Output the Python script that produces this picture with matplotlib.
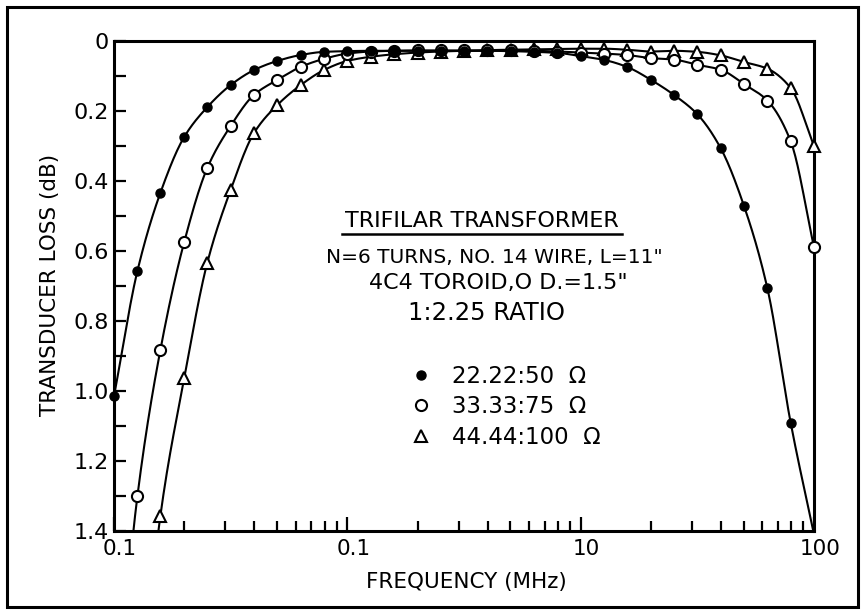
import numpy as np
import matplotlib
matplotlib.use("Agg")
import matplotlib.pyplot as plt
import matplotlib.transforms as mtransforms
from matplotlib.lines import Line2D
from matplotlib.patches import Rectangle
from matplotlib.ticker import FixedLocator, LogLocator, NullFormatter

plt.rcParams['font.family'] = ['DejaVu Sans']

# Measurement frequencies, ten per decade (MHz)
freq = [0.1, 0.126, 0.158, 0.2, 0.251, 0.316, 0.398, 0.501, 0.631, 0.794,
        1.0, 1.26, 1.58, 2.0, 2.51, 3.16, 3.98, 5.01, 6.31, 7.94,
        10.0, 12.6, 15.8, 20.0, 25.1, 31.6, 39.8, 50.1, 63.1, 79.4, 100.0]

# Transducer loss (dB) for the three impedance levels
loss_50 = [1.015, 0.657, 0.434, 0.274, 0.189, 0.126, 0.083, 0.057, 0.040, 0.031,
           0.029, 0.028, 0.028, 0.028, 0.028, 0.028, 0.028, 0.029, 0.031, 0.034,
           0.043, 0.054, 0.074, 0.111, 0.154, 0.209, 0.306, 0.471, 0.706, 1.090, 1.410]
loss_75 = [2.000, 1.300, 0.883, 0.574, 0.363, 0.243, 0.154, 0.111, 0.074, 0.051,
           0.036, 0.030, 0.028, 0.027, 0.027, 0.027, 0.027, 0.027, 0.028, 0.030,
           0.033, 0.036, 0.040, 0.049, 0.053, 0.068, 0.082, 0.123, 0.170, 0.286, 0.589]
loss_100 = [np.nan, 2.000, 1.357, 0.963, 0.634, 0.426, 0.263, 0.183, 0.126, 0.083,
            0.057, 0.045, 0.038, 0.033, 0.030, 0.028, 0.026, 0.025, 0.024, 0.023,
            0.022, 0.022, 0.025, 0.030, 0.028, 0.031, 0.041, 0.060, 0.079, 0.134, 0.300]

series_labels = ["22.22:50  \u03a9", "33.33:75  \u03a9", "44.44:100  \u03a9"]

xtick_vals = [0.1, 1, 10, 100]
xtick_text = ["0.1", "0.1", "10", "100"]
ytick_vals = [0, 0.2, 0.4, 0.6, 0.8, 1.0, 1.2, 1.4]
ytick_text = ["0", "0.2", "0.4", "0.6", "0.8", "1.0", "1.2", "1.4"]

note_title = "TRIFILAR TRANSFORMER"
note_lines = ['N=6 TURNS, NO. 14 WIRE, L=11"',
              '4C4 TOROID,O D.=1.5"',
              '1:2.25 RATIO']

W, H = 864, 614


def pchip(x, y, xs):
    """Monotone cubic Hermite curve through (x, y), evaluated at xs."""
    x = np.asarray(x, float)
    y = np.asarray(y, float)
    h = np.diff(x)
    d = np.diff(y) / h
    m = np.zeros_like(y)
    m[0], m[-1] = d[0], d[-1]
    for k in range(1, len(x) - 1):
        if d[k - 1] * d[k] > 0:
            w1 = 2 * h[k] + h[k - 1]
            w2 = h[k] + 2 * h[k - 1]
            m[k] = (w1 + w2) / (w1 / d[k - 1] + w2 / d[k])
    idx = np.clip(np.searchsorted(x, xs) - 1, 0, len(x) - 2)
    t = (xs - x[idx]) / h[idx]
    h00 = 2 * t**3 - 3 * t**2 + 1
    h10 = t**3 - 2 * t**2 + t
    h01 = -2 * t**3 + 3 * t**2
    h11 = t**3 - t**2
    return (h00 * y[idx] + h10 * h[idx] * m[idx] +
            h01 * y[idx + 1] + h11 * h[idx] * m[idx + 1])


fig = plt.figure(figsize=(W / 100, H / 100), dpi=100)
fig.patch.set_facecolor('white')
ax = fig.add_axes([114 / W, 1 - 531 / H, 700 / W, 490 / H])

styles = [
    dict(marker='o', ms=6.5, mfc='black', mec='black', mew=1.0, z=5),
    dict(marker='o', ms=8.0, mfc='white', mec='black', mew=1.5, z=4),
    dict(marker='^', ms=9.0, mfc='white', mec='black', mew=1.5, z=3),
]

handles = []
for vals, st in zip([loss_50, loss_75, loss_100], styles):
    f = np.asarray(freq, float)
    v = np.asarray(vals, float)
    ok = np.isfinite(v)
    lf = np.log10(f[ok])
    xs = np.linspace(lf[0], lf[-1], 600)
    ys = pchip(lf, v[ok], xs)
    ax.plot(10**xs, ys, color='black', lw=1.5, zorder=st['z'], clip_on=True,
            solid_capstyle='round')
    shown = ok & (v <= 1.4)
    ax.plot(f[shown], v[shown], ls='none', marker=st['marker'], ms=st['ms'],
            mfc=st['mfc'], mec=st['mec'], mew=st['mew'], zorder=st['z'] + 0.5,
            clip_on=False)
    handles.append(Line2D([], [], ls='none', marker=st['marker'], ms=st['ms'],
                          mfc=st['mfc'], mec=st['mec'], mew=st['mew']))

ax.set_xscale('log')
ax.set_xlim(0.1, 100)
ax.set_ylim(1.4, 0)

ax.xaxis.set_major_locator(FixedLocator(xtick_vals))
ax.set_xticklabels(xtick_text)
ax.xaxis.set_minor_locator(LogLocator(base=10, subs=np.arange(2, 10)))
ax.xaxis.set_minor_formatter(NullFormatter())

ax.set_yticks(ytick_vals)
ax.set_yticklabels(ytick_text)
ax.yaxis.set_minor_locator(FixedLocator([0.1, 0.3, 0.5, 0.7, 0.9, 1.1, 1.3]))

ax.tick_params(axis='both', which='both', direction='in', top=False, right=False,
               width=1.6, colors='black')
ax.tick_params(axis='x', which='major', length=10, pad=6, labelsize=15.5)
ax.tick_params(axis='x', which='minor', length=7)
ax.tick_params(axis='y', which='major', length=8.5, pad=4, labelsize=16)
ax.tick_params(axis='y', which='minor', length=8.5)

for sp in ax.spines.values():
    sp.set_linewidth(2.2)
    sp.set_color('black')

shift = mtransforms.ScaledTranslation(6 / 100, 0, fig.dpi_scale_trans)
for lab in ax.get_xticklabels():
    lab.set_transform(lab.get_transform() + shift)

fig.text(466 / W, 1 - 582 / H, "FREQUENCY (MHz)", ha='center', va='center',
         fontsize=15.5)
fig.text(50 / W, 1 - 285 / H, "TRANSDUCER LOSS (dB)", ha='center', va='center',
         rotation=90, fontsize=15.5)

# Annotation block inside the plot
t_title = fig.text(482 / W, 1 - 227 / H, note_title, ha='center', va='baseline',
                   fontsize=16)
fig.text(494 / W, 1 - 263 / H, note_lines[0], ha='center', va='baseline', fontsize=14.5)
fig.text(498 / W, 1 - 289 / H, note_lines[1], ha='center', va='baseline', fontsize=16)
fig.text(486 / W, 1 - 320 / H, note_lines[2], ha='center', va='baseline', fontsize=17.5)

fig.canvas.draw()
bb = t_title.get_window_extent()
uy = (H - 234) / H
fig.add_artist(Line2D([(bb.x0 - 3) / W, (bb.x1 + 3) / W], [uy, uy],
                      transform=fig.transFigure, color='black', lw=1.8))

ax.legend(handles, series_labels, loc='upper left',
          bbox_to_anchor=(410 / W, 1 - 365 / H), bbox_transform=fig.transFigure,
          frameon=False, fontsize=16.5, handlelength=1.0, handletextpad=0.85,
          labelspacing=0.32, borderpad=0, borderaxespad=0)

# Outer frame around the whole figure
fig.add_artist(Rectangle((7 / W, 7 / H), 851 / W, 600 / H, transform=fig.transFigure,
                         fill=False, lw=2.2, edgecolor='black'))

fig.savefig('out.png', dpi=100, facecolor='white')
